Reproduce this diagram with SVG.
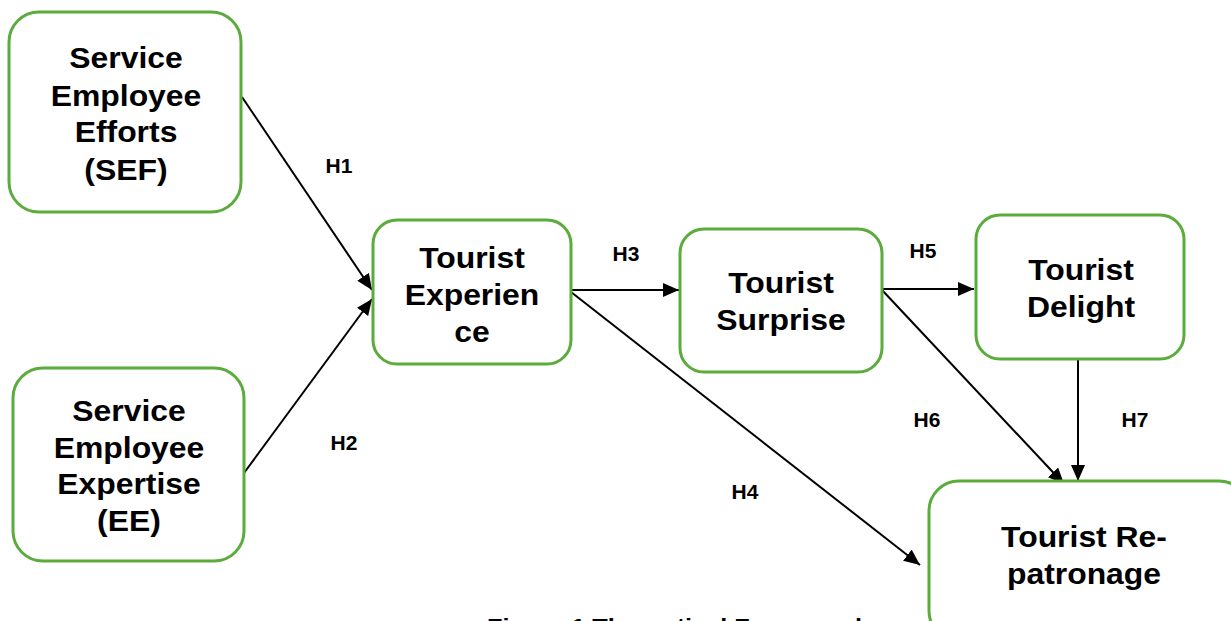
<svg xmlns="http://www.w3.org/2000/svg" width="1231" height="621" viewBox="0 0 1231 621">
<style>
.node{fill:#fff;stroke:#5bab3d;stroke-width:3}
.t{font-family:"Liberation Sans",Arial,sans-serif;font-weight:bold;font-size:29px;fill:#000;text-anchor:middle}
.h{font-family:"Liberation Sans",Arial,sans-serif;font-weight:bold;font-size:21px;fill:#000;text-anchor:middle}
.e{stroke:#000;stroke-width:2;fill:none;marker-end:url(#ah)}
</style>
<defs>
<marker id="ah" viewBox="0 0 10 10" refX="10" refY="5" markerWidth="8" markerHeight="7" orient="auto" markerUnits="strokeWidth" preserveAspectRatio="none">
<path d="M0,0 L10,5 L0,10 Z" fill="#000"/>
</marker>
</defs>
<rect width="1231" height="621" fill="#fff"/>
<g id="connectors">
<line class="e" x1="242" y1="97" x2="372" y2="290"/>
<line class="e" x1="244" y1="473" x2="372" y2="299"/>
<line class="e" x1="571" y1="290" x2="679" y2="290"/>
<line class="e" x1="571" y1="292" x2="920" y2="565"/>
<line class="e" x1="882" y1="289" x2="974" y2="289"/>
<line class="e" x1="882" y1="290" x2="1064" y2="484"/>
<line class="e" x1="1078" y1="350" x2="1078" y2="481"/>
</g>
<g id="labels">
<text class="h" x="339" y="173">H1</text>
<text class="h" x="344" y="450">H2</text>
<text class="h" x="626" y="261">H3</text>
<text class="h" x="745" y="499">H4</text>
<text class="h" x="923" y="258">H5</text>
<text class="h" x="927" y="427">H6</text>
<text class="h" x="1135" y="427">H7</text>
</g>
<g id="sef">
<rect class="node" x="9" y="12" width="232" height="200" rx="30"/>
<text class="t" transform="translate(126 0) scale(1.1 1)" y="68">Service</text>
<text class="t" transform="translate(126 0) scale(1.1 1)" y="106">Employee</text>
<text class="t" transform="translate(126 0) scale(1.1 1)" y="142">Efforts</text>
<text class="t" transform="translate(126 0) scale(1.1 1)" y="180">(SEF)</text>
</g>
<g id="ee">
<rect class="node" x="13" y="368" width="231" height="193" rx="30"/>
<text class="t" transform="translate(129 0) scale(1.1 1)" y="421">Service</text>
<text class="t" transform="translate(129 0) scale(1.1 1)" y="458">Employee</text>
<text class="t" transform="translate(129 0) scale(1.1 1)" y="494">Expertise</text>
<text class="t" transform="translate(129 0) scale(1.1 1)" y="531">(EE)</text>
</g>
<g id="experience">
<rect class="node" x="373" y="220" width="198" height="144" rx="24"/>
<text class="t" transform="translate(472 0) scale(1.1 1)" y="268">Tourist</text>
<text class="t" transform="translate(472 0) scale(1.1 1)" y="305">Experien</text>
<text class="t" transform="translate(472 0) scale(1.1 1)" y="342">ce</text>
</g>
<g id="surprise">
<rect class="node" x="680" y="229" width="202" height="143" rx="24"/>
<text class="t" transform="translate(781 0) scale(1.1 1)" y="293">Tourist</text>
<text class="t" transform="translate(781 0) scale(1.1 1)" y="330">Surprise</text>
</g>
<g id="delight">
<rect class="node" x="976" y="215" width="208" height="144" rx="24"/>
<text class="t" transform="translate(1081 0) scale(1.1 1)" y="280">Tourist</text>
<text class="t" transform="translate(1081 0) scale(1.1 1)" y="317">Delight</text>
</g>
<g id="repatronage">
<rect class="node" x="929" y="481" width="320" height="160" rx="30"/>
<text class="t" transform="translate(1084 0) scale(1.1 1)" y="547">Tourist Re-</text>
<text class="t" transform="translate(1084 0) scale(1.1 1)" y="584">patronage</text>
</g>
<text transform="translate(487 0) scale(1.15 1)" x="0" y="634" style="font-family:'Liberation Sans',Arial,sans-serif;font-weight:bold;font-size:22px">Figure 1 Theoretical Framework</text>
</svg>
